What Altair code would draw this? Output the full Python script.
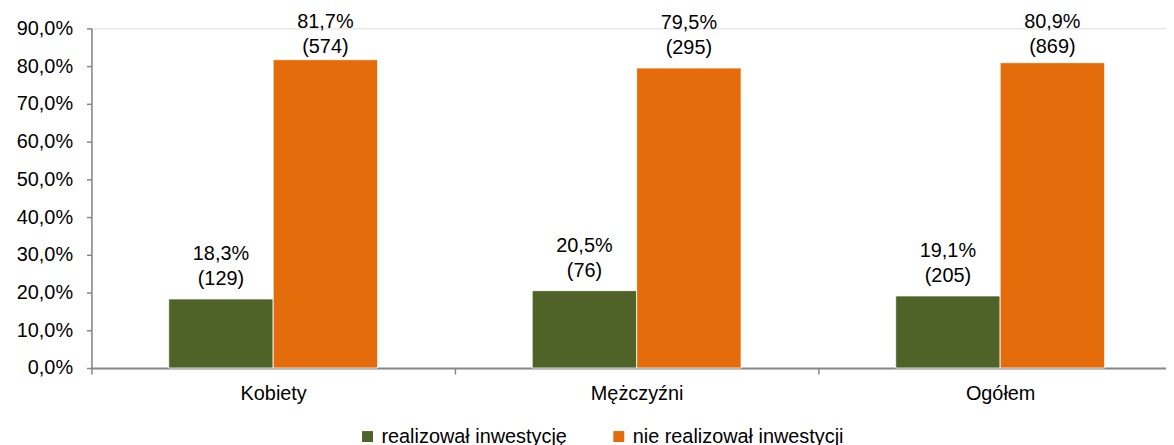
import altair as alt
import pandas as pd

categories = ["Kobiety", "Mężczyźni", "Ogółem"]
series = ["realizował inwestycję", "nie realizował inwestycji"]
pct_realizowal = [18.3, 20.5, 19.1]
pct_nie = [81.7, 79.5, 80.9]
n_realizowal = [129, 76, 205]
n_nie = [574, 295, 869]
colors = ["#4F6228", "#E46C0A"]
y_ticks = [0, 10, 20, 30, 40, 50, 60, 70, 80, 90]

rows = []
for i, c in enumerate(categories):
    rows.append({"cat": c, "ser": series[0], "pct": pct_realizowal[i], "n": n_realizowal[i]})
    rows.append({"cat": c, "ser": series[1], "pct": pct_nie[i], "n": n_nie[i]})
df = pd.DataFrame(rows)

FONT = "Liberation Sans"
FS = 20

x = alt.X("cat:N", sort=categories, title=None,
          scale=alt.Scale(paddingInner=0, paddingOuter=0, range=[0, 1098]),
          axis=alt.Axis(labelAngle=0, tickBand="extent", domainColor="#868686", domainWidth=2,
                        tickColor="#868686", tickWidth=1.5, tickSize=6, labelFontSize=FS,
                        labelFont=FONT, labelColor="#000000", labelPadding=10))
xo = alt.XOffset("ser:N", sort=series, scale=alt.Scale(paddingInner=0, paddingOuter=0.74))
yaxis = alt.Axis(values=y_ticks, grid=False, domainColor="#868686", domainWidth=1.5,
                 tickColor="#868686", tickWidth=1.5, tickSize=5, labelFontSize=FS,
                 labelFont=FONT, labelColor="#000000", labelPadding=14,
                 labelExpr="replace(format(datum.value, '.1f'), '.', ',') + '%'")
y = alt.Y("pct:Q", title=None, scale=alt.Scale(domain=[0, 90], nice=False), axis=yaxis)
ylab = alt.Y("ylab:Q", title=None, scale=alt.Scale(domain=[0, 90], nice=False), axis=yaxis)

base = alt.Chart(df)

bars = base.mark_bar(stroke="#ffffff", strokeWidth=0.8).encode(
    x=x, xOffset=xo, y=y,
    color=alt.Color("ser:N", sort=series, title=None,
                    scale=alt.Scale(domain=series, range=colors),
                    legend=alt.Legend(orient="none", legendX=268, legendY=401, direction="horizontal",
                                      symbolType="square", symbolSize=121, symbolStrokeWidth=0,
                                      labelFontSize=FS, labelFont=FONT, labelColor="#000000",
                                      columnPadding=42, labelOffset=4, labelLimit=400, padding=0)),
)

labbase = base.transform_calculate(ylab="min(datum.pct, 79.8)")

t1 = labbase.mark_text(baseline="alphabetic", dy=-39, fontSize=FS, font=FONT, color="#000000").transform_calculate(
    lab="replace(format(datum.pct, '.1f'), '.', ',') + '%'"
).encode(x=x, xOffset=xo, y=ylab, text="lab:N")

t2 = labbase.mark_text(baseline="alphabetic", dy=-14, fontSize=FS, font=FONT, color="#000000").transform_calculate(
    lab="'(' + datum.n + ')'"
).encode(x=x, xOffset=xo, y=ylab, text="lab:N")

chart = alt.layer(bars, t1, t2).properties(
    width=1082, height=342,
    autosize=alt.AutoSizeParams(type="none"),
    padding={"left": 84, "top": 19, "right": 0, "bottom": 76},
).configure_view(stroke=None).configure(background="#ffffff")

chart.save("out.html", embed_options={"renderer": "svg", "actions": False})
